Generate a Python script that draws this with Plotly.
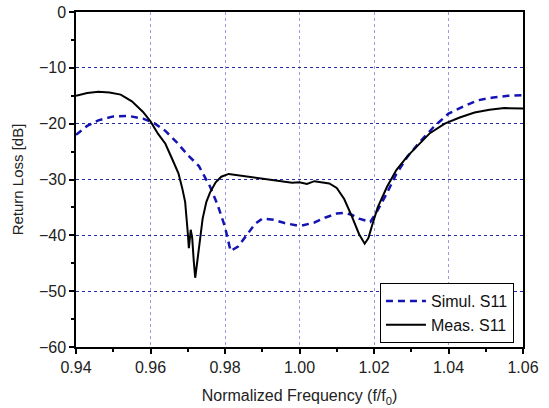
import plotly.graph_objects as go

sim_x = [0.940, 0.943, 0.946, 0.950, 0.954, 0.958, 0.961, 0.964, 0.967, 0.970, 0.973, 0.976,
         0.978, 0.980, 0.9815, 0.9835, 0.986, 0.988, 0.990, 0.993, 0.996, 0.999, 1.001, 1.004,
         1.007, 1.010, 1.012, 1.014, 1.016, 1.019, 1.021, 1.0235, 1.026, 1.029, 1.032, 1.036,
         1.040, 1.044, 1.048, 1.052, 1.056, 1.060]
sim_y = [-22.0, -20.4, -19.4, -18.7, -18.6, -19.1, -19.9, -21.3, -23.3, -25.6, -27.6, -31.3,
         -34.5, -38.5, -42.8, -42.0, -39.8, -38.0, -37.0, -37.2, -37.8, -38.2, -38.2, -37.7,
         -36.8, -36.1, -36.0, -36.3, -37.0, -37.6, -35.5, -32.4, -29.0, -25.9, -23.5, -20.6,
         -18.2, -16.9, -15.8, -15.3, -15.0, -14.9]

meas_x = [0.940, 0.943, 0.946, 0.949, 0.952, 0.955, 0.958, 0.960, 0.962, 0.964, 0.966, 0.9675,
          0.9685, 0.9693, 0.970, 0.9703, 0.9708, 0.9712, 0.9716, 0.972, 0.9725, 0.973, 0.974,
          0.975, 0.976, 0.9775, 0.979, 0.981, 0.983, 0.986, 0.989, 0.992, 0.995, 0.998, 1.000,
          1.002, 1.004, 1.006, 1.008, 1.010, 1.012, 1.014, 1.016, 1.0175, 1.0185, 1.0195, 1.021,
          1.0235, 1.026, 1.029, 1.032, 1.035, 1.039, 1.043, 1.047, 1.051, 1.055, 1.060]
meas_y = [-15.0, -14.5, -14.3, -14.4, -14.8, -16.0, -17.9, -19.6, -21.8, -23.6, -26.6, -28.9,
          -31.5, -34.0, -39.5, -42.3, -39.0, -40.5, -44.5, -47.6, -45.0, -42.5, -37.0,
          -34.0, -32.3, -30.5, -29.5, -29.0, -29.2, -29.5, -29.8, -30.0, -30.4, -30.6, -30.5,
          -30.8, -30.3, -30.5, -30.7, -31.5, -33.5, -36.5, -39.8, -41.5, -40.5, -38.2, -35.0,
          -31.3, -28.3, -25.8, -23.8, -21.7, -20.0, -18.9, -18.0, -17.5, -17.2, -17.3]

x_ticks = [0.94, 0.96, 0.98, 1.00, 1.02, 1.04, 1.06]
y_ticks = [0, -10, -20, -30, -40, -50, -60]

FONT = "Liberation Sans, Arial, sans-serif"

fig = go.Figure()
fig.add_trace(go.Scatter(x=sim_x, y=sim_y, mode="lines", name="Simul. S11",
                         line=dict(color="#1414b4", width=2.5, dash="7px,5px")))
fig.add_trace(go.Scatter(x=meas_x, y=meas_y, mode="lines", name="Meas. S11",
                         line=dict(color="black", width=2)))

fig.update_layout(
    width=549, height=408,
    margin=dict(l=76, r=26, t=12, b=61),
    paper_bgcolor="white", plot_bgcolor="white",
    font=dict(family=FONT, size=16, color="#222"),
    showlegend=True,
    legend=dict(x=0.68, y=0.012, xanchor="left", yanchor="bottom",
                bordercolor="black", borderwidth=1, bgcolor="white",
                font=dict(size=16, color="#111"), tracegroupgap=0,
                itemwidth=40),
)
fig.update_xaxes(
    range=[0.94, 1.06], tickvals=x_ticks, tickformat=".2f", automargin=False,
    showline=True, linecolor="black", linewidth=1.5, mirror=True,
    ticks="outside", ticklen=5, tickwidth=1.5, tickcolor="black",
    minor=dict(ticks="outside", ticklen=3, tickwidth=1.5, tickcolor="black", dtick=0.01, showgrid=False),
    showgrid=True, gridcolor="#9a9ae0", gridwidth=1, griddash="dot",
    zeroline=False,
    title=dict(text="Normalized Frequency (f/f<sub>0</sub>)", font=dict(size=16), standoff=15),
    tickfont=dict(size=16),
)
fig.update_yaxes(
    range=[-60, 0], tickvals=y_ticks, automargin=False,
    showline=True, linecolor="black", linewidth=1.5, mirror=True,
    ticks="outside", ticklen=5, tickwidth=1.5, tickcolor="black",
    minor=dict(ticks="outside", ticklen=3, tickwidth=1.5, tickcolor="black", dtick=5, showgrid=False),
    showgrid=True, gridcolor="#2a2aa8", gridwidth=1, griddash="dot",
    zeroline=False,
    title=dict(text="Return Loss [dB]", font=dict(size=15), standoff=12),
    tickfont=dict(size=16),
)

fig.write_html("out.html", config={"displayModeBar": False},
               post_script="document.body.style.margin='0px';")
